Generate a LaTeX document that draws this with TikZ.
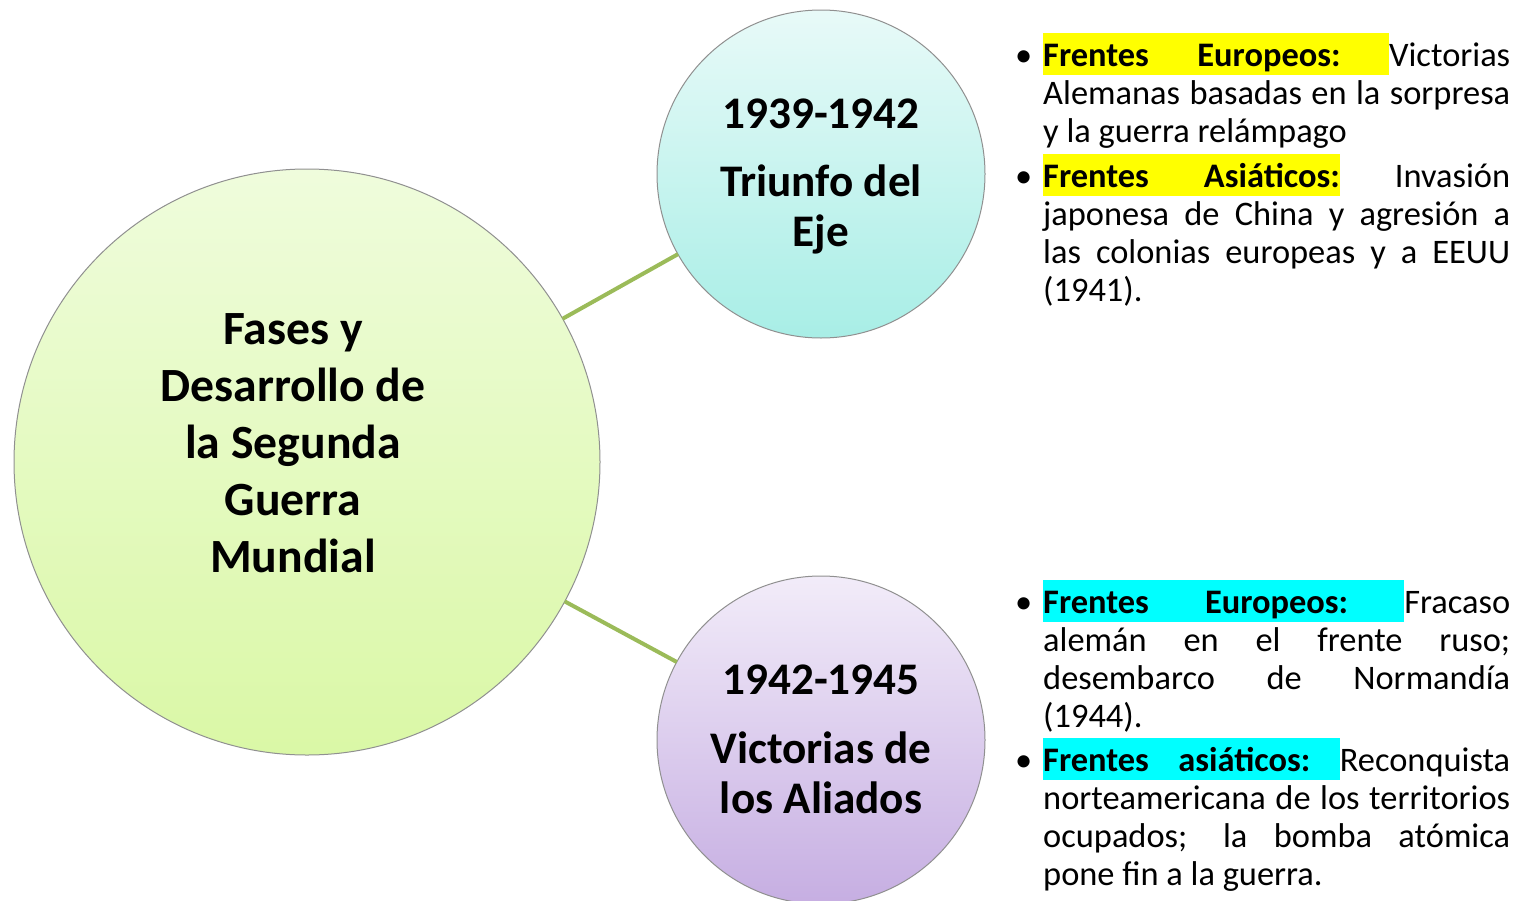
\documentclass[tikz,border=0pt]{standalone}
\usepackage{fontspec}
\setmainfont{Carlito}
\usetikzlibrary{shadings}
\definecolor{bigtop}{HTML}{EFFCDC}
\definecolor{bigbot}{HTML}{DAF8A6}
\definecolor{cyantop}{HTML}{E8FAF8}
\definecolor{cyanbot}{HTML}{A8EEE6}
\definecolor{lavtop}{HTML}{F2ECF9}
\definecolor{lavbot}{HTML}{C6AEE2}
\definecolor{rimgray}{HTML}{909090}
\definecolor{conngreen}{HTML}{9BBB59}
\definecolor{hlyellow}{HTML}{FFFF00}
\definecolor{hlcyan}{HTML}{00FFFF}
\setlength\fboxsep{0pt}
\newlength\hlwd
\newlength\hlgap
\newcommand\hlstrut{\rule[-9pt]{0pt}{42pt}}
\newcommand\tightlines{\setlength{\lineskiplimit}{-100pt}}
% highlight covers the trailing gap
\newcommand\hlin[4]{%
  \settowidth\hlwd{\textbf{#2}\textbf{#3}#4}%
  \setlength\hlgap{\dimexpr(\linewidth-\hlwd)/2\relax}%
  \hbox to\linewidth{\colorbox{#1}{\hlstrut\textbf{#2}\hspace*{\hlgap}\textbf{#3}\hspace*{\hlgap}}#4\hss}}
% highlight stops after the colon
\newcommand\hlout[4]{%
  \settowidth\hlwd{\textbf{#2}\textbf{#3}#4}%
  \setlength\hlgap{\dimexpr(\linewidth-\hlwd)/2\relax}%
  \hbox to\linewidth{\colorbox{#1}{\hlstrut\textbf{#2}\hspace*{\hlgap}\textbf{#3}}\hspace*{\hlgap}#4\hss}}
\newcommand\bul{\llap{\textbullet\hspace{11pt}}}
\tikzset{
  phase/.style={circle, draw=rimgray, line width=1pt, inner sep=0pt, outer sep=0pt},
  conn/.style={draw=conngreen, line width=4pt},
  bigtext/.style={anchor=north, align=center, inner sep=0pt, font=\fontsize{47.7}{57}\selectfont\bfseries},
  smalltext/.style={anchor=north, align=center, inner sep=0pt, font=\fontsize{45.2}{50}\selectfont\bfseries},
  listbox/.style={anchor=north west, inner sep=0pt, text width=467pt, align=justify, font=\fontsize{34.4}{38}\selectfont}
}
\begin{document}
\begin{tikzpicture}[x=1pt,y=-1pt]
\useasboundingbox (0,0) rectangle (1526,900);
\node[phase, minimum size=586pt, top color=bigtop, bottom color=bigbot] (main) at (307,462) {};
\node[phase, minimum size=328pt, top color=cyantop, bottom color=cyanbot] (axis) at (821,174) {};
\node[phase, minimum size=328pt, top color=lavtop, bottom color=lavbot] (allies) at (821,740) {};
\draw[conn] (main) -- (axis);
\draw[conn] (main) -- (allies);
\node[bigtext] (maintext) at (293,313) {Fases y\\Desarrollo de\\la Segunda\\Guerra\\Mundial};
\node[smalltext] (axistext) at (821,98.5) {1939-1942\\[18pt]Triunfo del\\Eje};
\node[smalltext] (alliestext) at (821,664.5) {1942-1945\\[19pt]Victorias de\\los Aliados};
\node[listbox] (axislist) at (1043,33) {\tightlines
\noindent\bul\hlin{hlyellow}{Frentes}{Europeos:}{Victorias}\par
\noindent Alemanas basadas en la sorpresa\linebreak y la guerra relámpago\par
\vspace{7pt}
\noindent\bul\hlout{hlyellow}{Frentes}{Asiáticos:}{Invasión}\par
\noindent japonesa de China y agresión a\linebreak las colonias europeas y a EEUU\linebreak (1941).\par};
\node[listbox] (allieslist) at (1043,580) {\tightlines
\noindent\bul\hlin{hlcyan}{Frentes}{Europeos:}{Fracaso}\par
\noindent alemán en el frente ruso;\linebreak desembarco de Normandía\linebreak (1944).\par
\vspace{6pt}
\noindent\bul\hlin{hlcyan}{Frentes}{asiáticos:}{Reconquista}\par
\noindent norteamericana de los territorios\linebreak ocupados; la bomba atómica\linebreak pone fin a la guerra.\par};
\end{tikzpicture}
\end{document}
